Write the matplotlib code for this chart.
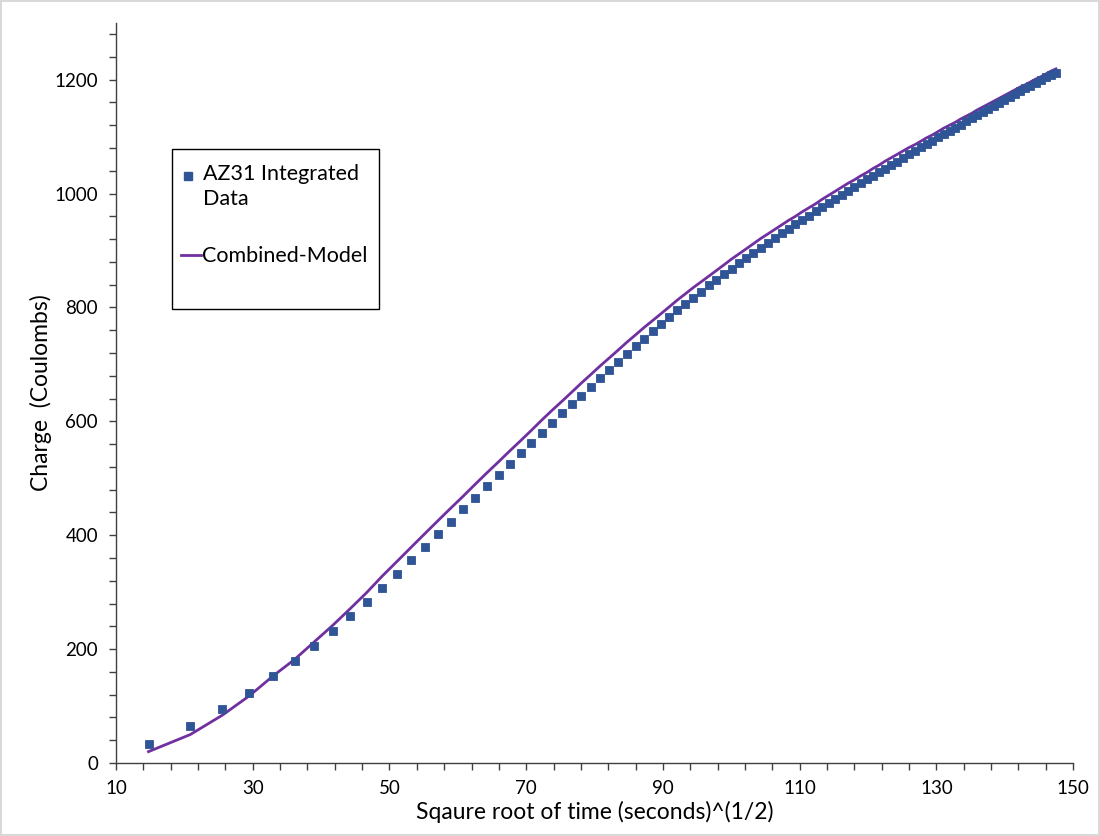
import matplotlib
matplotlib.use("Agg")
import matplotlib.pyplot as plt
from matplotlib.ticker import FixedLocator, MultipleLocator
from matplotlib.patches import Rectangle
from matplotlib.lines import Line2D

plt.rcParams['font.family'] = ['Lato', 'DejaVu Sans']

# sqrt(time) values of the integrated data points
data_x = [14.75, 20.86, 25.55, 29.50, 32.98, 36.13, 39.02, 41.72, 44.25, 46.64,
          48.92, 51.10, 53.18, 55.19, 57.13, 59.00, 60.82, 62.58, 64.29, 65.96,
          67.59, 69.18, 70.74, 72.26, 73.75, 75.21, 76.64, 78.05, 79.43, 80.79,
          82.12, 83.44, 84.73, 86.01, 87.26, 88.50, 89.72, 90.92, 92.11, 93.29,
          94.45, 95.59, 96.72, 97.84, 98.95, 100.04, 101.12, 102.19, 103.25, 104.30,
          105.34, 106.36, 107.38, 108.39, 109.39, 110.38, 111.36, 112.33, 113.30, 114.25,
          115.20, 116.14, 117.07, 118.00, 118.92, 119.83, 120.73, 121.63, 122.52, 123.41,
          124.29, 125.16, 126.02, 126.88, 127.74, 128.59, 129.43, 130.27, 131.10, 131.93,
          132.75, 133.57, 134.38, 135.19, 135.99, 136.79, 137.58, 138.37, 139.15, 139.93,
          140.71, 141.48, 142.24, 143.01, 143.77, 144.52, 145.27, 146.02, 146.76, 147.50]

# AZ31 integrated charge (Coulombs)
data_y = [34, 65, 95, 123, 152, 179, 206, 232, 258, 283,
          308, 332, 356, 379, 402, 424, 446, 466, 487, 506,
          525, 544, 562, 580, 597, 614, 630, 645, 661, 676,
          691, 705, 719, 732, 745, 758, 771, 783, 795, 806,
          817, 828, 839, 849, 859, 868, 878, 887, 896, 905,
          913, 922, 930, 938, 946, 954, 961, 969, 976, 983,
          990, 997, 1004, 1011, 1018, 1025, 1031, 1038, 1044, 1050,
          1056, 1063, 1069, 1075, 1081, 1087, 1093, 1099, 1104, 1110,
          1116, 1121, 1127, 1132, 1138, 1143, 1149, 1154, 1159, 1164,
          1170, 1175, 1180, 1185, 1189, 1194, 1199, 1204, 1208, 1212]

# Combined-Model values at the same sqrt(time) values
model_y = [20, 50, 84, 118, 153, 182, 213, 242, 271, 299,
           328, 354, 379, 403, 426, 448, 469, 490, 510, 529,
           548, 566, 584, 602, 619, 635, 651, 667, 682, 697,
           711, 725, 739, 752, 765, 777, 789, 801, 813, 824,
           835, 845, 855, 865, 875, 885, 894, 903, 912, 921,
           929, 937, 945, 953, 960, 968, 975, 982, 990, 997,
           1004, 1011, 1018, 1024, 1031, 1037, 1044, 1050, 1057, 1063,
           1069, 1075, 1081, 1086, 1092, 1098, 1103, 1109, 1115, 1120,
           1125, 1131, 1136, 1141, 1147, 1152, 1157, 1162, 1167, 1172,
           1177, 1182, 1187, 1191, 1196, 1201, 1205, 1210, 1215, 1219]

x_ticks = [10, 30, 50, 70, 90, 110, 130, 150]
y_ticks = [0, 200, 400, 600, 800, 1000, 1200]

x_label = "Sqaure root of time (seconds)^(1/2)"
y_label = "Charge  (Coulombs)"
data_name = "AZ31 Integrated\nData"
model_name = "Combined-Model"

blue = "#2F5597"
purple = "#7030A0"
axis_col = "#404040"

W, H = 1100, 836
fig = plt.figure(figsize=(W / 100, H / 100), dpi=100)
fig.patch.set_edgecolor("#d9d9d9")
fig.patch.set_linewidth(1.5)
ax = fig.add_axes([0.1055, 0.0873, 0.870, 0.8855])

ax.plot(data_x, model_y, color=purple, linewidth=2.0, zorder=2)
ax.plot(data_x, data_y, linestyle="none", marker="s", markersize=5.6,
        color=blue, markeredgecolor=blue, markeredgewidth=0.6, zorder=3)

ax.set_xlim(10, 150)
ax.set_ylim(0, 1300)
ax.xaxis.set_major_locator(FixedLocator(x_ticks))
ax.xaxis.set_minor_locator(FixedLocator(list(range(10, 151, 4))))
ax.yaxis.set_major_locator(FixedLocator(y_ticks))
ax.yaxis.set_minor_locator(MultipleLocator(40))

for s in ["top", "right"]:
    ax.spines[s].set_visible(False)
for s in ["left", "bottom"]:
    ax.spines[s].set_color(axis_col)
    ax.spines[s].set_linewidth(1.0)

ax.tick_params(which="both", direction="out", length=5, width=1.0,
               color=axis_col, labelsize=13.5, labelcolor="black")
ax.tick_params(axis="x", pad=7)
ax.tick_params(axis="y", pad=8)

ax.set_xlabel(x_label, fontsize=16.5, labelpad=3)
ax.set_ylabel(y_label, fontsize=16.5, labelpad=1.5)

# legend box (drawn by hand to match the original layout)
fig.add_artist(Rectangle((172 / W, 1 - 309 / H), 207 / W, 160 / H,
                         transform=fig.transFigure, facecolor="white",
                         edgecolor="black", linewidth=1.0, zorder=5))
fig.add_artist(Line2D([188 / W], [1 - 176 / H], transform=fig.transFigure,
                      linestyle="none", marker="s", markersize=5.6,
                      color=blue, zorder=6))
fig.text(203 / W, 1 - 164 / H, data_name, fontsize=15.5, va="top",
         ha="left", linespacing=1.3, zorder=6)
fig.add_artist(Line2D([181 / W, 201 / W], [1 - 255 / H, 1 - 255 / H],
                      transform=fig.transFigure, color=purple,
                      linewidth=2.0, zorder=6))
fig.text(202 / W, 1 - 256 / H, model_name, fontsize=15.5, va="center",
         ha="left", zorder=6)

fig.savefig("out.png", dpi=100)
